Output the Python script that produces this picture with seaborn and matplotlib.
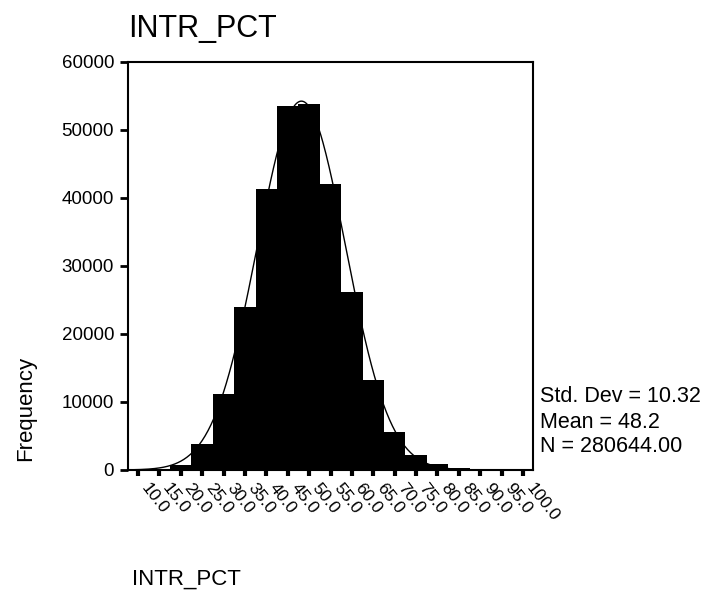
import numpy as np
import pandas as pd
import seaborn as sns
import matplotlib
matplotlib.use("Agg")
import matplotlib.pyplot as plt
from matplotlib.transforms import ScaledTranslation

# bin midpoints of INTR_PCT and the counts
bin_mids = [10.0, 15.0, 20.0, 25.0, 30.0, 35.0, 40.0, 45.0, 50.0, 55.0,
            60.0, 65.0, 70.0, 75.0, 80.0, 85.0, 90.0, 95.0, 100.0]
freq = [50, 200, 800, 3800, 11200, 24000, 41300, 53600, 53800, 42000,
        26200, 13200, 5600, 2200, 900, 300, 100, 50, 50]
tick_labels = ["%.1f" % v for v in bin_mids]

std_dev = 10.32
mean = 48.2
n_total = 280644.00
bin_width = 5.0

data = pd.DataFrame({"INTR_PCT": bin_mids, "count": freq})

sns.set_theme(style="white")
plt.rcParams['font.family'] = ['Liberation Sans', 'DejaVu Sans']
plt.rcParams['text.color'] = 'black'
plt.rcParams['xtick.color'] = 'black'
plt.rcParams['ytick.color'] = 'black'

fig = plt.figure(figsize=(7.17, 5.90), dpi=100)
ax = fig.add_axes([128 / 717, 1 - 470 / 590, (533 - 128) / 717, (470 - 62) / 590])

sns.histplot(data=data, x="INTR_PCT", weights="count", binwidth=bin_width,
             binrange=(bin_mids[0] - bin_width / 2, bin_mids[-1] + bin_width / 2),
             color="black", alpha=1, edgecolor="black", linewidth=0, ax=ax)

# fitted normal curve from the reported statistics
xs = np.linspace(8, 102, 400)
ys = n_total * bin_width / (std_dev * np.sqrt(2 * np.pi)) * np.exp(-0.5 * ((xs - mean) / std_dev) ** 2)
sns.lineplot(x=xs, y=ys, color="black", linewidth=1, ax=ax)

ax.set_xlim(7.66, 102.34)
ax.set_ylim(0, 60000)
ax.set_yticks(range(0, 60001, 10000))
ax.set_yticklabels([str(v) for v in range(0, 60001, 10000)], fontsize=13.5)
ax.set_xticks(bin_mids)
ax.set_xticklabels(tick_labels, fontsize=12.5, rotation=-52, ha="left", va="center",
                   rotation_mode="anchor")
ax.tick_params(axis="y", direction="out", length=6, width=2, pad=4, left=True)
ax.tick_params(axis="x", direction="out", length=4, width=3, pad=7, bottom=True)
shift = ScaledTranslation(0.06, 0, fig.dpi_scale_trans)
for lbl in ax.get_xticklabels():
    lbl.set_transform(lbl.get_transform() + shift)
ax.set_xlabel("")
ax.set_ylabel("")
for sp in ax.spines.values():
    sp.set_color("black")
    sp.set_linewidth(1.5)

fig.text(128 / 717, 1 - 37 / 590, "INTR_PCT", fontsize=22, ha="left", va="baseline")
fig.text(132 / 717, 1 - 585 / 590, "INTR_PCT", fontsize=16, ha="left", va="baseline")
fig.text(26 / 717, 1 - 408 / 590, "Frequency", fontsize=16, rotation=90,
         ha="center", va="center")

fig.text(540 / 717, 1 - 397 / 590, "Std. Dev = %.2f" % std_dev, fontsize=15.5, va="center")
fig.text(540 / 717, 1 - 422 / 590, "Mean = %.1f" % mean, fontsize=15.5, va="center")
fig.text(540 / 717, 1 - 447 / 590, "N = %.2f" % n_total, fontsize=15.5, va="center")

plt.savefig("out.png", dpi=100)
